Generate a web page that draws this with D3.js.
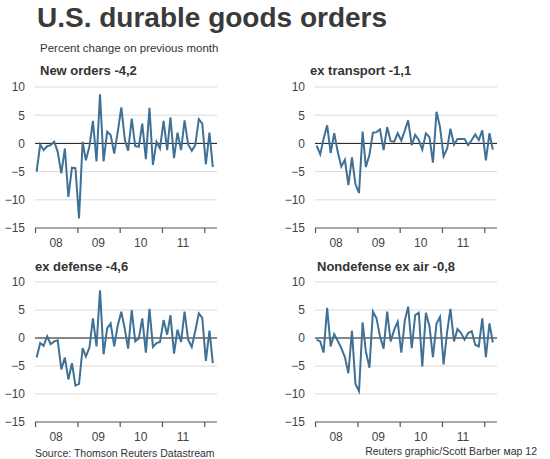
<!DOCTYPE html>
<html><head><meta charset="utf-8">
<script src="https://cdn.jsdelivr.net/npm/d3@7"></script>
<style>body{margin:0;background:#fff;} svg{display:block;font-family:"Liberation Sans",Arial,sans-serif;}</style>
</head><body><svg id="c" width="550" height="459"></svg>
<script>
// Categories: monthly observations Jan 2008 .. Mar 2012 (plotted mid-month)
const months = d3.timeMonth.range(new Date(2008,0,1), new Date(2012,3,1))
  .map(d => new Date(d.getFullYear(), d.getMonth(), 15));
const yearTicks = [2008, 2009, 2010, 2011, 2012];
const yearLabels = ["08", "09", "10", "11"];
const yTicks = [10, 5, 0, -5, -10, -15];

const newOrders = [-5.0,-0.2,-1.2,-0.5,-0.3,0.3,-1.5,-5.3,-0.9,-9.5,-4.3,-4.4,-13.3,0.3,-3.0,-0.5,4.0,-3.2,8.7,-3.2,2.1,1.5,-1.8,2.0,6.4,0.6,-1.3,4.4,-0.5,-0.6,3.5,-2.8,6.3,-3.8,0.3,-0.9,4.0,-1.2,4.6,-2.6,1.9,-1.2,4.1,-0.2,-1.3,-0.3,4.3,3.5,-3.7,1.9,-4.2];
const exTransport = [-0.4,-1.9,0.8,3.2,-1.7,1.8,-1.5,-4.1,-2.9,-7.4,-2.5,-7.2,-8.8,2.1,-4.2,-2.0,1.9,2.0,2.5,-1.2,2.9,0.4,0.3,1.8,0.5,2.3,4.1,-0.3,1.5,0.6,-1.1,1.8,1.1,-3.4,5.6,2.9,-2.3,-0.9,2.6,-0.2,0.8,0.8,0.8,-0.3,0.6,1.6,0.6,2.3,-3.0,1.8,-1.1];
const exDefense = [-3.5,-0.9,-1.4,0.3,-1.1,-0.6,-0.4,-5.6,-3.5,-7.4,-4.5,-8.5,-8.2,-1.8,-3.3,-1.7,3.5,-1.5,8.5,-2.9,1.7,2.6,-1.5,2.2,4.7,1.5,-1.9,5.0,-0.6,-0.1,3.5,-2.6,5.2,-1.6,-0.9,-0.7,3.2,0.6,4.1,-2.8,1.5,-0.7,4.7,-0.3,-1.6,1.2,4.4,3.6,-4.1,1.3,-4.5];
const nondefExAir = [-0.3,-0.6,-2.6,5.4,-1.5,0.7,-0.5,-1.8,-3.4,-6.3,1.3,-8.2,-9.5,2.8,-2.4,-5.3,4.7,3.5,0.3,-1.9,4.7,-0.6,1.5,2.9,-2.6,3.2,5.6,-1.8,4.1,4.5,-5.1,4.5,2.1,-3.4,2.6,3.8,-4.7,1.2,5.2,-0.6,1.6,0.9,-0.3,0.9,1.2,-1.2,-1.5,3.5,-3.4,2.6,-0.8];

const titles = ["New orders -4,2", "ex transport -1,1", "ex defense -4,6", "Nondefense ex air -0,8"];
const series = [newOrders, exTransport, exDefense, nondefExAir];

// layout (positions only)
const layout = [
  {x0: 35, x1: 217, yTop: 87, yBot: 228, tx: 40, ty: 75, lx: 25},
  {x0: 315, x1: 497, yTop: 87, yBot: 228, tx: 310, ty: 75, lx: 305},
  {x0: 35, x1: 217, yTop: 282, yBot: 422, tx: 35, ty: 271, lx: 25},
  {x0: 315, x1: 497, yTop: 282, yBot: 422, tx: 317, ty: 271, lx: 305}
];

const svg = d3.select("#c");
svg.append("rect").attr("width",550).attr("height",459).attr("fill","#fff");

svg.append("text").attr("x",37).attr("y",27).attr("font-size",28).attr("font-weight","bold")
  .attr("fill","#3a3a3a").text("U.S. durable goods orders");
svg.append("text").attr("x",40).attr("y",52).attr("font-size",11.5).attr("fill","#333")
  .text("Percent change on previous month");

series.forEach((vals, k) => {
  const L = layout[k];
  const x = d3.scaleTime().domain([new Date(2008,0,1), new Date(2012,3,20)]).range([L.x0, L.x1]);
  const y = d3.scaleLinear().domain([-15, 10]).range([L.yBot, L.yTop]);
  const g = svg.append("g");

  // gridlines
  g.selectAll("line.grid").data(yTicks.filter(t => t !== 0 && t !== -15)).join("line")
    .attr("x1", L.x0).attr("x2", L.x1).attr("y1", d => y(d)).attr("y2", d => y(d))
    .attr("stroke", "#d9d9d9").attr("stroke-width", 1);

  // y labels
  const ya = d3.axisLeft(y).tickValues(yTicks).tickSize(0).tickPadding(0).tickFormat(d3.format("d"));
  const yg = g.append("g").attr("transform", `translate(${L.lx},0)`).call(ya);
  yg.select(".domain").remove();
  yg.selectAll("text").attr("font-size", 12).attr("fill", "#444").attr("font-family", "Liberation Sans, Arial, sans-serif");

  // bottom axis
  const xa = d3.axisBottom(x).tickValues(yearTicks.map(yr => new Date(yr,0,1))).tickSize(5).tickFormat("");
  const xg = g.append("g").attr("transform", `translate(0,${y(-15)})`).call(xa);
  xg.select(".domain").attr("d", `M${L.x0},0H${L.x1}`).attr("stroke", "#555").attr("stroke-width", 1.2);
  xg.selectAll(".tick line").attr("stroke", "#555").attr("stroke-width", 1.2);

  g.selectAll("text.yr").data(yearLabels).join("text")
    .attr("x", (d, i) => x(new Date(2008 + i, 6, 1)))
    .attr("y", y(-15) + 19).attr("text-anchor", "middle").attr("font-size", 12).attr("fill", "#444")
    .text(d => d);

  // zero line
  g.append("line").attr("x1", L.x0).attr("x2", L.x1).attr("y1", y(0)).attr("y2", y(0))
    .attr("stroke", "#111").attr("stroke-width", 1);

  // series line
  const line = d3.line().x((d, i) => x(months[i])).y(d => y(d));
  g.append("path").datum(vals).attr("d", line).attr("fill", "none")
    .attr("stroke", "#3f7196").attr("stroke-width", 2).attr("stroke-linejoin", "miter");

  // title
  svg.append("text").attr("x", L.tx).attr("y", L.ty).attr("font-size", 13).attr("font-weight", "bold")
    .attr("fill", "#333").text(titles[k]);
});

svg.append("text").attr("x",35).attr("y",457).attr("font-size",10.5).attr("fill","#333")
  .text("Source: Thomson Reuters Datastream");
svg.append("text").attr("x",537).attr("y",455).attr("text-anchor","end").attr("font-size",10.5).attr("fill","#333")
  .text("Reuters graphic/Scott Barber мар 12");
</script></body></html>
